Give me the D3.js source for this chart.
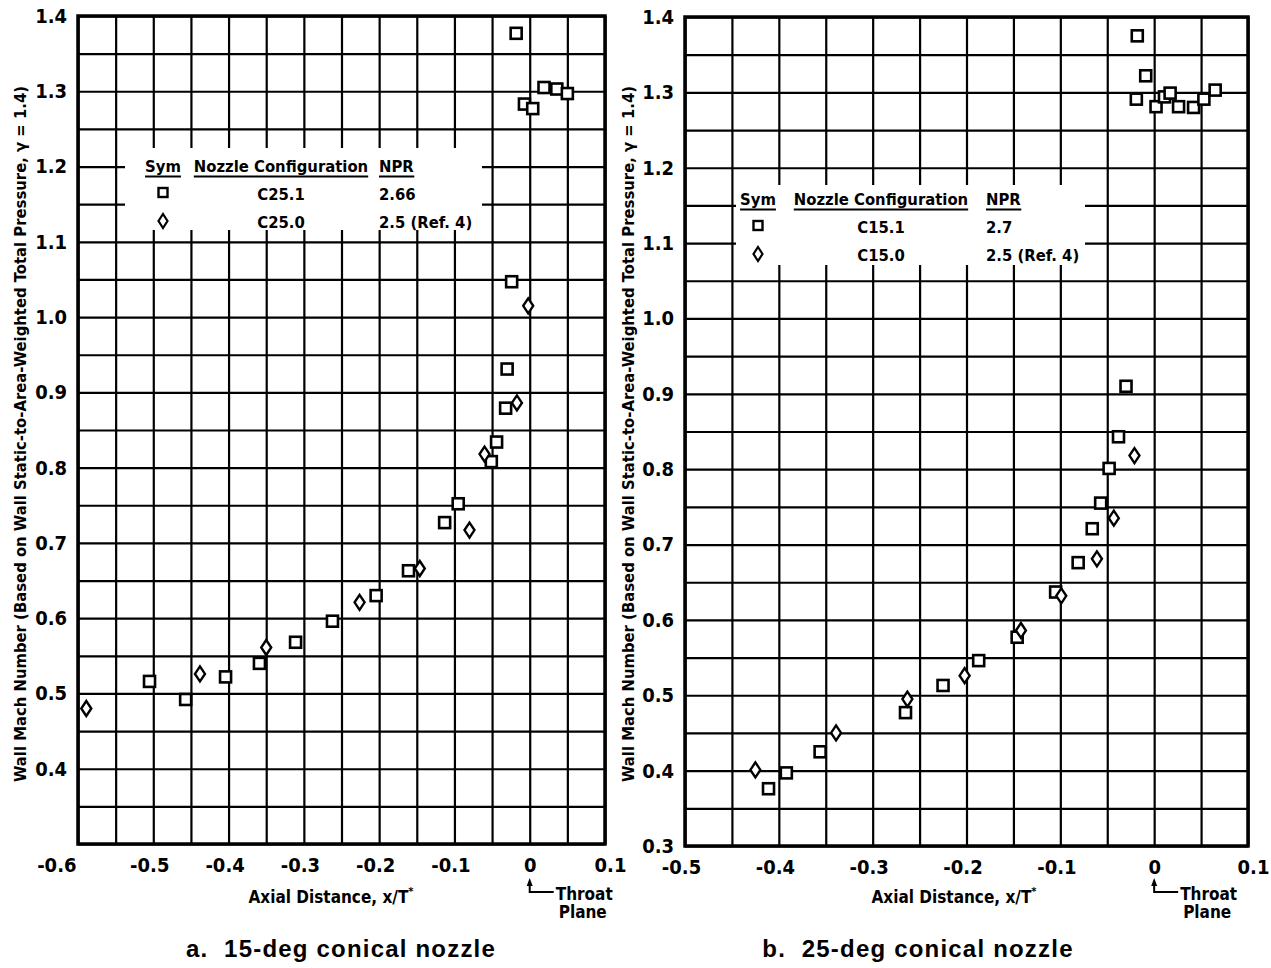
<!DOCTYPE html>
<html><head><meta charset="utf-8">
<script src="https://cdn.jsdelivr.net/npm/d3@7"></script>
<style>
html,body{margin:0;padding:0;background:#fff;}
svg{display:block;}
.cond{font-family:"Liberation Sans Narrow","Arial Narrow","DejaVu Sans Condensed","Roboto Condensed",sans-serif;font-stretch:condensed;font-weight:bold;fill:#000;}
.title{font-family:"Liberation Sans",Arial,sans-serif;font-weight:bold;fill:#000;white-space:pre;letter-spacing:1.2px;}
</style></head><body>
<svg id="chart" width="1271" height="968"></svg>
<script>
// ---------- tick labels ----------
const xTicksA = [-0.6, -0.5, -0.4, -0.3, -0.2, -0.1, 0, 0.1];
const yTicksA = [0.4, 0.5, 0.6, 0.7, 0.8, 0.9, 1.0, 1.1, 1.2, 1.3, 1.4];
const xTicksB = [-0.5, -0.4, -0.3, -0.2, -0.1, 0, 0.1];
const yTicksB = [0.3, 0.4, 0.5, 0.6, 0.7, 0.8, 0.9, 1.0, 1.1, 1.2, 1.3, 1.4];

// ---------- panel a: 15-deg conical nozzle ----------
const c251X = [-0.505, -0.457, -0.404, -0.359, -0.311, -0.262, -0.204, -0.161, -0.113, -0.095, -0.051, -0.044, -0.032, -0.030, -0.024, -0.018, -0.007, 0.004, 0.019, 0.036, 0.050];
const c251Y = [0.516, 0.492, 0.522, 0.540, 0.568, 0.596, 0.630, 0.663, 0.727, 0.752, 0.808, 0.834, 0.879, 0.931, 1.047, 1.377, 1.283, 1.277, 1.305, 1.303, 1.297];
const c250X = [-0.589, -0.438, -0.350, -0.226, -0.146, -0.080, -0.060, -0.017, -0.002];
const c250Y = [0.480, 0.526, 0.561, 0.621, 0.666, 0.717, 0.818, 0.886, 1.015];

// ---------- panel b: 25-deg conical nozzle ----------
const c151X = [-0.411, -0.392, -0.356, -0.265, -0.225, -0.187, -0.146, -0.105, -0.081, -0.066, -0.057, -0.048, -0.038, -0.030, -0.019, -0.018, -0.009, 0.002, 0.011, 0.017, 0.026, 0.042, 0.053, 0.065];
const c151Y = [0.376, 0.397, 0.425, 0.477, 0.513, 0.546, 0.577, 0.637, 0.676, 0.721, 0.755, 0.801, 0.843, 0.910, 1.291, 1.375, 1.322, 1.281, 1.294, 1.299, 1.281, 1.280, 1.291, 1.303];
const c150X = [-0.425, -0.339, -0.263, -0.202, -0.142, -0.099, -0.061, -0.043, -0.021];
const c150Y = [0.401, 0.450, 0.495, 0.526, 0.586, 0.632, 0.681, 0.735, 0.818];

// ---------- legends ----------
const legendA = [["square", "C25.1", "2.66"], ["diamond", "C25.0", "2.5 (Ref. 4)"]];
const legendB = [["square", "C15.1", "2.7"], ["diamond", "C15.0", "2.5 (Ref. 4)"]];

const yLabel = "Wall Mach Number (Based on Wall Static-to-Area-Weighted Total Pressure, \u03B3 = 1.4)";

const svg = d3.select("#chart");
const diamondPath = "M0,-7.5L5,0L0,7.5L-5,0Z";

function drawPanel(cfg) {
  const g = svg.append("g");
  const x = d3.scaleLinear().domain(cfg.xDomain).range(cfg.xRange);
  const y = d3.scaleLinear().domain([0.3, 1.4]).range(cfg.yRange);
  const W = cfg.xRange[1] - cfg.xRange[0];
  const H = cfg.yRange[0] - cfg.yRange[1];
  const nx = Math.round((cfg.xDomain[1] - cfg.xDomain[0]) / 0.05);
  const ny = Math.round((1.4 - 0.3) / 0.05);
  const gx = d3.range(nx + 1).map(i => +(cfg.xDomain[0] + i * 0.05).toFixed(3));
  const gy = d3.range(ny + 1).map(i => +(0.3 + i * 0.05).toFixed(3));

  // grid
  const gridX = g.append("g").attr("transform", `translate(0,${cfg.yRange[0]})`)
    .call(d3.axisBottom(x).tickValues(gx).tickSize(-H).tickFormat(""));
  const gridY = g.append("g").attr("transform", `translate(${cfg.xRange[0]},0)`)
    .call(d3.axisLeft(y).tickValues(gy).tickSize(-W).tickFormat(""));
  [gridX, gridY].forEach(a => {
    a.select(".domain").remove();
    a.selectAll(".tick line").attr("stroke", "#000").attr("stroke-width", 2.2);
  });

  // legend box (white patch that interrupts the grid)
  g.append("rect").attr("x", cfg.legBox[0]).attr("y", cfg.legBox[1])
    .attr("width", cfg.legBox[2]).attr("height", cfg.legBox[3]).attr("fill", "#fff");

  // frame
  g.append("rect").attr("x", cfg.xRange[0]).attr("y", cfg.yRange[1])
    .attr("width", W).attr("height", H).attr("fill", "none")
    .attr("stroke", "#000").attr("stroke-width", 3.5);

  // tick labels
  const fmtX = v => v === 0 ? "0" : d3.format(".1f")(v).replace("\u2212", "-");
  const ax = g.append("g").attr("transform", `translate(0,${cfg.yRange[0]})`)
    .call(d3.axisBottom(x).tickValues(cfg.xTicks).tickSize(0).tickPadding(0).tickFormat(fmtX));
  ax.select(".domain").remove();
  ax.selectAll("text").attr("class", "cond").attr("font-size", 20)
    .attr("y", 28).attr("dy", 0)
    .attr("text-anchor", (d, i) => (cfg.firstEnd && i === 0) ? "end" : "middle")
    .attr("dx", (d, i) => (cfg.firstEnd && i === 0) ? -2 : (d === 0 ? 0 : (i === cfg.xTicks.length - 1 ? 5 : -4)));
  const ay = g.append("g").attr("transform", `translate(${cfg.xRange[0]},0)`)
    .call(d3.axisLeft(y).tickValues(cfg.yTicks).tickSize(0).tickPadding(11).tickFormat(d3.format(".1f")));
  ay.select(".domain").remove();
  ay.selectAll("text").attr("class", "cond").attr("font-size", 20);

  // data
  const sq = cfg.sqX.map((v, i) => [v, cfg.sqY[i]]);
  const dm = cfg.dmX.map((v, i) => [v, cfg.dmY[i]]);
  g.append("g").selectAll("rect").data(sq).join("rect")
    .attr("x", d => x(d[0]) - 5.5).attr("y", d => y(d[1]) - 5.5)
    .attr("width", 11).attr("height", 11)
    .attr("fill", "#fff").attr("stroke", "#000").attr("stroke-width", 2.6);
  g.append("g").selectAll("path").data(dm).join("path")
    .attr("d", diamondPath).attr("transform", d => `translate(${x(d[0])},${y(d[1])})`)
    .attr("fill", "#fff").attr("stroke", "#000").attr("stroke-width", 2.4);

  // legend
  const L = cfg.leg;
  const lg = g.append("g").attr("class", "cond").attr("font-size", 16.5);
  const heads = [["Sym", L.symX, "middle"], ["Nozzle Configuration", L.confX, "middle"], ["NPR", L.nprX, "start"]];
  heads.forEach(h => {
    const t = lg.append("text").attr("x", h[1]).attr("y", L.y0).attr("text-anchor", h[2]).text(h[0]);
    const bb = t.node().getBBox();
    lg.append("line").attr("x1", bb.x).attr("x2", bb.x + bb.width)
      .attr("y1", L.y0 + 4.5).attr("y2", L.y0 + 4.5).attr("stroke", "#000").attr("stroke-width", 2);
  });
  cfg.legend.forEach((row, i) => {
    const yy = L.y0 + (i + 1) * L.dy;
    if (row[0] === "square") {
      lg.append("rect").attr("x", L.symX - 4.5).attr("y", yy - 12).attr("width", 9).attr("height", 9)
        .attr("fill", "#fff").attr("stroke", "#000").attr("stroke-width", 2.4);
    } else {
      lg.append("path").attr("d", "M0,-7L4.5,0L0,7L-4.5,0Z").attr("transform", `translate(${L.symX},${yy - 7})`)
        .attr("fill", "#fff").attr("stroke", "#000").attr("stroke-width", 2.2);
    }
    lg.append("text").attr("x", L.confX).attr("y", yy).attr("text-anchor", "middle").text(row[1]);
    lg.append("text").attr("x", L.nprX).attr("y", yy).text(row[2]);
  });

  // y axis title
  svg.append("text").attr("class", "cond").attr("font-size", 16.5)
    .attr("transform", `translate(${cfg.yTitleX},${cfg.yTitleY}) rotate(-90)`)
    .attr("text-anchor", "middle").text(yLabel);

  // x axis title
  const xt = svg.append("text").attr("class", "cond").attr("font-size", 17)
    .attr("x", cfg.xTitleX).attr("y", 903).attr("text-anchor", "middle");
  xt.append("tspan").text("Axial Distance, x/T");
  xt.append("tspan").attr("font-size", 11).attr("dy", -8).text("*");

  // throat plane annotation
  const x0 = x(0);
  svg.append("path").attr("d", `M${x0},878L${x0 + 3},886L${x0 - 3},886Z`).attr("fill", "#000");
  svg.append("path").attr("d", `M${x0},884L${x0},892L${x0 + 24},892`).attr("fill", "none")
    .attr("stroke", "#000").attr("stroke-width", 2);
  svg.append("text").attr("class", "cond").attr("font-size", 17).attr("x", x0 + 26).attr("y", 900).text("Throat");
  svg.append("text").attr("class", "cond").attr("font-size", 17).attr("x", x0 + 29).attr("y", 918).text("Plane");

  // panel caption
  svg.append("text").attr("class", "title").attr("font-size", 24)
    .attr("x", cfg.titleX).attr("y", 957).attr("text-anchor", "middle").text(cfg.title);
}

drawPanel({
  xDomain: [-0.6, 0.1], xRange: [78, 605], yRange: [844, 16],
  xTicks: xTicksA, yTicks: yTicksA, firstEnd: true,
  sqX: c251X, sqY: c251Y, dmX: c250X, dmY: c250Y,
  legend: legendA, legBox: [125, 148, 357, 82],
  leg: { symX: 163, confX: 281, nprX: 379, y0: 172, dy: 28 },
  yTitleX: 26, yTitleY: 434, xTitleX: 331, titleX: 341,
  title: "a.  15-deg conical nozzle"
});
drawPanel({
  xDomain: [-0.5, 0.1], xRange: [685, 1248], yRange: [846, 17],
  xTicks: xTicksB, yTicks: yTicksB, firstEnd: false,
  sqX: c151X, sqY: c151Y, dmX: c150X, dmY: c150Y,
  legend: legendB, legBox: [736, 185, 349, 80],
  leg: { symX: 758, confX: 881, nprX: 986, y0: 205, dy: 28 },
  yTitleX: 634, yTitleY: 434, xTitleX: 954, titleX: 918,
  title: "b.  25-deg conical nozzle"
});
</script>
</body></html>
